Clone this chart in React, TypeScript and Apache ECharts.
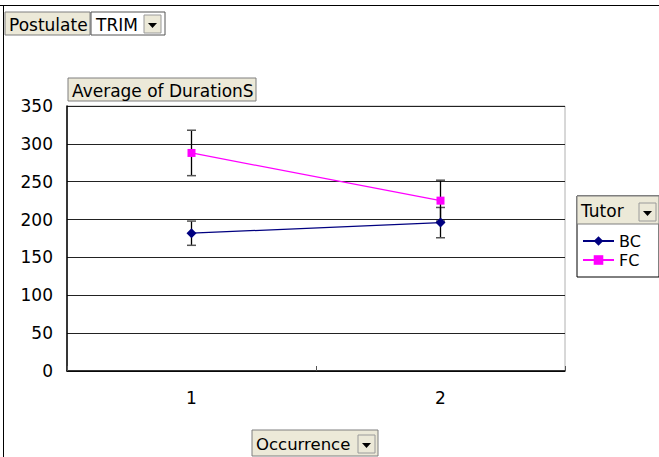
import React, { useEffect, useRef } from "react";
import * as echarts from "echarts";

const categories = ["1", "2"];
const seriesNames = ["BC", "FC"];
const bcValues = [182, 196];
const fcValues = [288, 225];
const bcErrors = [16, 20];
const fcErrors = [30, 27];
const yTicks = [0, 50, 100, 150, 200, 250, 300, 350];

const FONT = "DejaVu Sans, Verdana, sans-serif";
const BEIGE = "#ECE9D8";

function button(x: number, y: number, w: number, h: number, text: string, fill = BEIGE, fontSize = 17) {
  return {
    type: "group",
    x,
    y,
    children: [
      { type: "rect", shape: { x: 0, y: 0, width: w, height: h }, style: { fill, stroke: "#7f7f7f", lineWidth: 1 } },
      { type: "text", x: 4, y: h / 2 + 1, style: { text, fill: "#000", font: `${fontSize}px ${FONT}`, textVerticalAlign: "middle" } },
    ],
  };
}

function dropArrow(x: number, y: number) {
  return {
    type: "group",
    x,
    y,
    children: [
      { type: "rect", shape: { x: 0, y: 0, width: 17, height: 18 }, style: { fill: BEIGE, stroke: "#9a9a9a", lineWidth: 1 } },
      { type: "polygon", shape: { points: [[4, 8], [13, 8], [8.5, 13]] }, style: { fill: "#000" } },
    ],
  };
}

export default function App() {
  const ref = useRef<HTMLDivElement>(null);
  useEffect(() => {
    if (!ref.current) return;
    const chart = echarts.init(ref.current, null, { renderer: "svg" });
    const errData = (vals: number[], errs: number[]) =>
      vals.map((v, i) => [i, v - errs[i], v + errs[i]]);
    const errSeries = (name: string, vals: number[], errs: number[]) => ({
      type: "custom",
      name: name + "_err",
      z: 1,
      silent: true,
      data: errData(vals, errs),
      renderItem: (params: any, api: any) => {
        const lo = api.coord([api.value(0), api.value(1)]);
        const hi = api.coord([api.value(0), api.value(2)]);
        const cw = 4.5;
        const st = { stroke: "#000", lineWidth: 1.3 };
        const cst = { stroke: "#555", lineWidth: 1.5 };
        return {
          type: "group",
          children: [
            { type: "line", shape: { x1: hi[0], y1: hi[1], x2: lo[0], y2: lo[1] }, style: st },
            { type: "line", shape: { x1: hi[0] - cw, y1: hi[1], x2: hi[0] + cw, y2: hi[1] }, style: cst },
            { type: "line", shape: { x1: lo[0] - cw, y1: lo[1], x2: lo[0] + cw, y2: lo[1] }, style: cst },
          ],
        };
      },
    });
    chart.setOption({
      animation: false,
      backgroundColor: "#fff",
      textStyle: { fontFamily: FONT },
      grid: { left: 67, right: 94, top: 106, bottom: 86, show: true, borderColor: "#b0b0b0", borderWidth: 1 },
      xAxis: {
        type: "category",
        data: categories,
        boundaryGap: true,
        axisLine: { lineStyle: { color: "#000", width: 1.5 } },
        axisTick: { show: true, inside: true, length: 5, lineStyle: { color: "#555" } },
        axisLabel: { color: "#000", fontSize: 17, margin: 18, fontFamily: FONT },
        splitLine: { show: false },
      },
      yAxis: {
        type: "value",
        min: 0,
        max: 350,
        interval: 50,
        axisLine: { show: true, lineStyle: { color: "#000", width: 1.5 } },
        axisTick: { show: false },
        axisLabel: {
          color: "#000",
          fontSize: 17,
          margin: 14,
          fontFamily: FONT,
          formatter: (v: number) => (yTicks.includes(v) ? String(v) : ""),
        },
        splitLine: { show: true, lineStyle: { color: "#222", width: 1 } },
      },
      legend: {
        data: seriesNames,
        orient: "vertical",
        left: 582,
        top: 233,
        padding: 0,
        itemWidth: 31,
        itemHeight: 12,
        itemGap: 3,
        textStyle: { color: "#000", fontSize: 16, fontFamily: FONT },
      },
      series: [
        errSeries("BC", bcValues, bcErrors),
        errSeries("FC", fcValues, fcErrors),
        {
          type: "line",
          name: "BC",
          data: bcValues,
          z: 3,
          color: "#000080",
          symbol: "diamond",
          symbolSize: 10,
          lineStyle: { color: "#000080", width: 1.2 },
          itemStyle: { color: "#000080" },
        },
        {
          type: "line",
          name: "FC",
          data: fcValues,
          z: 3,
          color: "#FF00FF",
          symbol: "rect",
          symbolSize: 8,
          lineStyle: { color: "#FF00FF", width: 1.2 },
          itemStyle: { color: "#FF00FF" },
        },
      ],
      graphic: [
        { type: "line", shape: { x1: 0, y1: 5.5, x2: 659, y2: 5.5 }, style: { stroke: "#000", lineWidth: 1 } },
        { type: "line", shape: { x1: 3.5, y1: 5, x2: 3.5, y2: 457 }, style: { stroke: "#000", lineWidth: 1 } },
        button(5, 12, 85, 23, "Postulate"),
        {
          type: "group",
          x: 91,
          y: 12,
          children: [
            { type: "rect", shape: { x: 0, y: 0, width: 74, height: 23 }, style: { fill: "#fff", stroke: "#555", lineWidth: 1 } },
            { type: "text", x: 5, y: 12.5, style: { text: "TRIM", fill: "#000", font: `17px ${FONT}`, textVerticalAlign: "middle" } },
          ],
        },
        dropArrow(144, 15),
        button(68, 78, 188, 23, "Average of DurationS"),
        { type: "rect", shape: { x: 577, y: 196, width: 82, height: 81 }, style: { fill: "none", stroke: "#000", lineWidth: 1 } },
        button(577, 196, 82, 28, "Tutor", BEIGE, 17),
        dropArrow(639, 203),
        button(252, 430, 126, 26, "Occurrence", BEIGE, 16.5),
        dropArrow(358, 435),
      ],
    });
    return () => chart.dispose();
  }, []);
  return <div ref={ref} style={{ position: "fixed", left: 0, top: 0, width: 659, height: 457 }} />;
}
